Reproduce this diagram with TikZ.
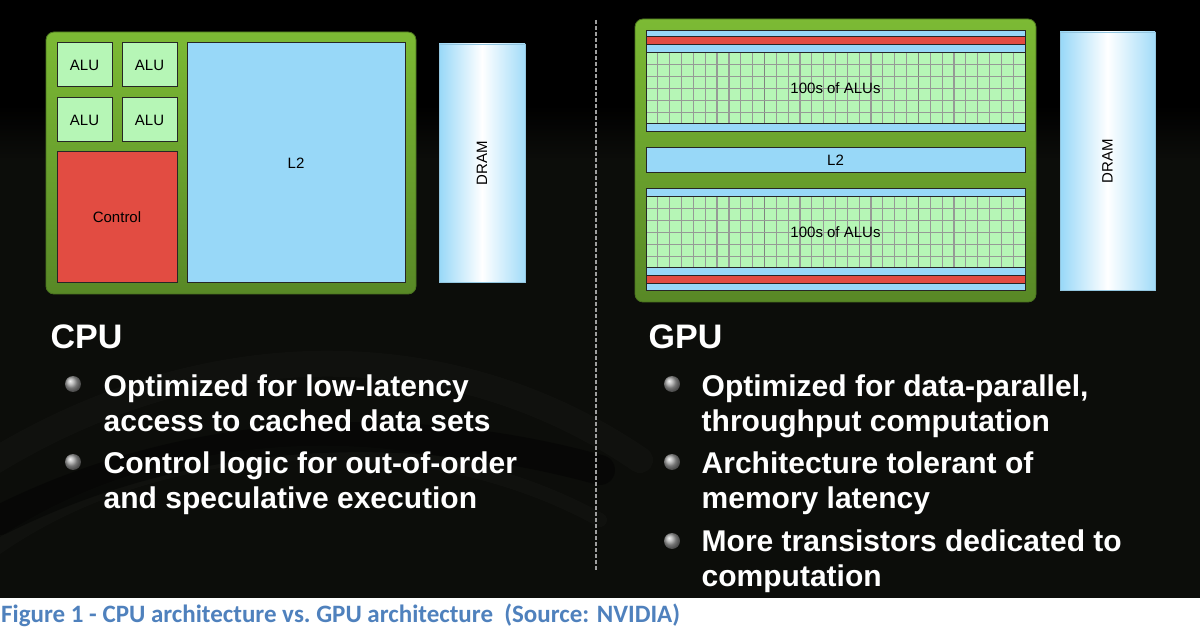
\documentclass[tikz,border=0pt]{standalone}
\usepackage{fontspec}
\setmainfont{Liberation Sans}
\newfontfamily\capfont{Carlito}
\definecolor{chiptop}{RGB}{124,186,52}
\definecolor{chipbot}{RGB}{88,136,38}
\definecolor{alugreen}{RGB}{182,246,182}
\definecolor{cacheblue}{RGB}{152,216,248}
\definecolor{ctrlred}{RGB}{226,76,66}
\definecolor{gridgray}{RGB}{150,154,150}
\definecolor{capblue}{RGB}{79,129,189}
\definecolor{bgdark}{RGB}{12,13,10}
\tikzset{
  chip/.style={rounded corners=8pt, top color=chiptop, bottom color=chipbot,
    draw=chipbot!85!black, line width=0.8pt, anchor=north west, inner sep=0pt, outer sep=0pt},
  unit/.style={draw=black!85, line width=1pt, anchor=north west, inner sep=0pt, outer sep=0pt,
    font=\fontsize{15}{17}\selectfont, text=black},
  alu/.style={unit, fill=alugreen},
  cache/.style={unit, fill=cacheblue},
  ctrl/.style={unit, fill=ctrlred},
  dram/.style={anchor=north west, inner sep=0pt, outer sep=0pt, left color=cacheblue,
    right color=cacheblue!90!white, middle color=white, draw=cacheblue!80!gray, line width=0.6pt},
  unitlabel/.style={font=\fontsize{15}{17}\selectfont, text=black, inner sep=0pt},
  heading/.style={anchor=base west, inner sep=0pt, text=white, font=\bfseries\fontsize{34}{40}\selectfont},
  bulletline/.style={anchor=base west, inner sep=0pt, text=white, font=\bfseries\fontsize{30}{34}\selectfont},
  bulletdot/.style={circle, minimum size=16pt, inner sep=0pt, shading=ball, ball color=black!35!white},
  gridline/.style={draw=gridgray, line width=1.2pt},
  gridmajor/.style={draw=gridgray!85!black, line width=1.8pt}
}
\begin{document}
\begin{tikzpicture}[x=1pt, y=-1pt]
\useasboundingbox (0,0) rectangle (1200,628);
% backdrop
\fill[bgdark] (0,0) rectangle (1200,598);
\fill[black] (0,0) rectangle (1200,105);
\shade[top color=black, bottom color=bgdark] (0,105) rectangle (1200,160);
\begin{scope}[line cap=round]
  \draw[white, opacity=0.02, line width=26pt] (-20,470) .. controls (200,330) and (450,330) .. (640,460);
  \draw[white, opacity=0.018, line width=14pt] (-20,560) .. controls (150,430) and (420,420) .. (600,520);
  \draw[black, opacity=0.4, line width=30pt] (0,520) .. controls (200,420) and (420,420) .. (600,470);
\end{scope}
\fill[white] (0,598) rectangle (1200,628);

% ---------------- CPU ----------------
\node[chip, minimum width=370pt, minimum height=262pt] (cpuchip) at (46,32) {};
\node[alu, minimum width=55pt, minimum height=44pt] (alu1) at (57,43) {ALU};
\node[alu, minimum width=55pt, minimum height=44pt] (alu2) at (122,43) {ALU};
\node[alu, minimum width=55pt, minimum height=44pt] (alu3) at (57,98) {ALU};
\node[alu, minimum width=55pt, minimum height=44pt] (alu4) at (122,98) {ALU};
\node[ctrl, minimum width=120pt, minimum height=131pt] (control) at (57,152) {Control};
\node[cache, minimum width=218pt, minimum height=240pt] (cpul2) at (187,43) {L2};
\node[dram, minimum width=86pt, minimum height=238pt] (cpudram) at (439,44) {};
\node[unitlabel, rotate=90] (cpudramlabel) at (cpudram.center) {DRAM};

% ---------------- GPU ----------------
\node[chip, minimum width=401pt, minimum height=283pt] (gpuchip) at (635,19) {};
% upper block
\node[cache, minimum width=379pt, minimum height=6pt] (gtopb1) at (646,31) {};
\node[ctrl,  minimum width=379pt, minimum height=8pt] (gtopr) at (646,37) {};
\node[cache, minimum width=379pt, minimum height=8pt] (gtopb2) at (646,45) {};
\node[alu,   minimum width=379pt, minimum height=71pt] (gtopgrid) at (646,53) {};
\node[cache, minimum width=379pt, minimum height=8pt] (gtopb3) at (646,124) {};
% shared cache
\node[cache, minimum width=379pt, minimum height=25pt] (gpul2) at (646,148) {L2};
% lower block
\node[cache, minimum width=379pt, minimum height=8pt] (gbotb1) at (646,189) {};
\node[alu,   minimum width=379pt, minimum height=71pt] (gbotgrid) at (646,197) {};
\node[cache, minimum width=379pt, minimum height=8pt] (gbotb2) at (646,268) {};
\node[ctrl,  minimum width=379pt, minimum height=8pt] (gbotr) at (646,276) {};
\node[cache, minimum width=379pt, minimum height=7pt] (gbotb3) at (646,284) {};
% ALU arrays
\foreach \gy in {53,197}{
  \foreach \c in {1,...,31}{
    \ifnum\c=10 \draw[gridmajor] ({646+\c*11.844},\gy) -- ++(0,71);
    \else\ifnum\c=23 \draw[gridmajor] ({646+\c*11.844},\gy) -- ++(0,71);
    \else \draw[gridline] ({646+\c*11.844},\gy) -- ++(0,71);
    \fi\fi
  }
  \foreach \r in {1,...,5}{
    \draw[gridline] (646,{\gy+\r*11.833}) -- ++(379,0);
  }
  \draw[draw=black!85, line width=1pt] (646,\gy) rectangle ++(379,71);
}
\node[unitlabel] (gtoplabel) at (gtopgrid.center) {100s of ALUs};
\node[unitlabel] (gbotlabel) at (gbotgrid.center) {100s of ALUs};
\node[dram, minimum width=95pt, minimum height=258pt] (gpudram) at (1060,32) {};
\node[unitlabel, rotate=90] (gpudramlabel) at (gpudram.center) {DRAM};

% divider
\coordinate (divtop) at (596,20);
\coordinate (divbot) at (596,570);
\draw[gray!75, line width=1.6pt, dash pattern=on 4pt off 2pt] (divtop) -- (divbot);

% ---------------- text ----------------
\node[heading] (cpuhead) at (50.5,349) {CPU};
\node[heading] (gpuhead) at (648.5,349) {GPU};

\node[bulletdot] (cb1) at (73,384) {};
\node[bulletline] (cb1a) at (103.5,396) {Optimized for low-latency};
\node[bulletline] (cb1b) at (103.5,431) {access to cached data sets};
\node[bulletdot] (cb2) at (73,462) {};
\node[bulletline] (cb2a) at (103.5,473) {Control logic for out-of-order};
\node[bulletline] (cb2b) at (103.5,508) {and speculative execution};

\node[bulletdot] (gb1) at (672,384) {};
\node[bulletline] (gb1a) at (701.5,396) {Optimized for data-parallel,};
\node[bulletline] (gb1b) at (701.5,431) {throughput computation};
\node[bulletdot] (gb2) at (672,462) {};
\node[bulletline] (gb2a) at (701.5,473) {Architecture tolerant of};
\node[bulletline] (gb2b) at (701.5,508) {memory latency};
\node[bulletdot] (gb3) at (672,541) {};
\node[bulletline] (gb3a) at (701.5,551) {More transistors dedicated to};
\node[bulletline] (gb3b) at (701.5,586) {computation};

\node[anchor=base west, inner sep=0pt, text=capblue, font=\capfont\bfseries\fontsize{25}{28}\selectfont]
  (caption) at (1,622) {Figure 1 - CPU architecture vs.\ GPU architecture\ \ (Source: NVIDIA)};
\end{tikzpicture}
\end{document}
